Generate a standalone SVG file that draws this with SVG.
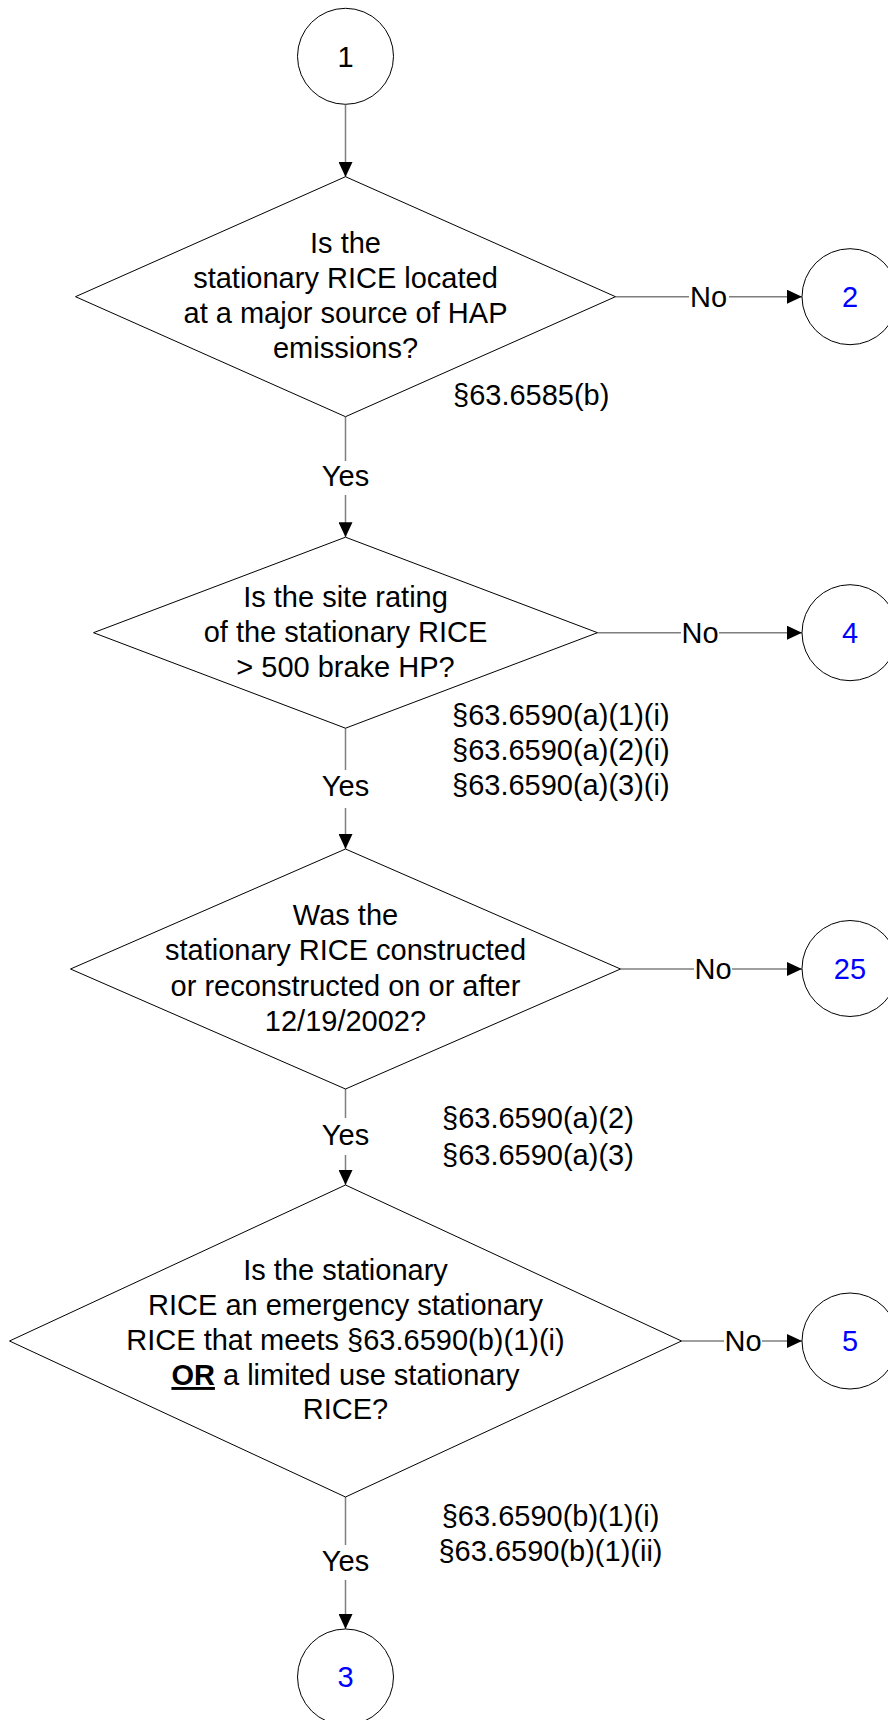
<svg xmlns="http://www.w3.org/2000/svg" width="888" height="1720" viewBox="0 0 888 1720">
<style>
.t{font-family:"Liberation Sans",Arial,sans-serif;font-size:29px;fill:#000}
.m{text-anchor:middle}
.b{fill:#0000ff}
.shape{fill:#fff;stroke:#000;stroke-width:1}
.con{fill:none;stroke:#7f7f7f;stroke-width:1.5}
</style>
<defs>
<marker id="arr" markerUnits="userSpaceOnUse" viewBox="0 0 15 14" refX="15" refY="7" markerWidth="15" markerHeight="14" orient="auto">
<path d="M0,0 L15,7 L0,14 z" fill="#000"/>
</marker>
</defs>
<rect width="888" height="1720" fill="#fff"/>
<g id="connectors">
<line class="con" x1="345.5" y1="104.5" x2="345.5" y2="177" marker-end="url(#arr)"/>
<line class="con" x1="615.5" y1="296.7" x2="689" y2="296.7"/>
<line class="con" x1="729" y1="296.7" x2="802" y2="296.7" marker-end="url(#arr)"/>
<line class="con" x1="345.5" y1="416.7" x2="345.5" y2="461"/>
<line class="con" x1="345.5" y1="495" x2="345.5" y2="537.2" marker-end="url(#arr)"/>
<line class="con" x1="597.5" y1="632.7" x2="681" y2="632.7"/>
<line class="con" x1="719" y1="632.7" x2="802" y2="632.7" marker-end="url(#arr)"/>
<line class="con" x1="345.5" y1="728.2" x2="345.5" y2="770"/>
<line class="con" x1="345.5" y1="808" x2="345.5" y2="849" marker-end="url(#arr)"/>
<line class="con" x1="620.5" y1="969" x2="694" y2="969"/>
<line class="con" x1="732" y1="969" x2="802" y2="969" marker-end="url(#arr)"/>
<line class="con" x1="345.5" y1="1089" x2="345.5" y2="1118"/>
<line class="con" x1="345.5" y1="1155" x2="345.5" y2="1185" marker-end="url(#arr)"/>
<line class="con" x1="681.5" y1="1341" x2="724" y2="1341"/>
<line class="con" x1="762" y1="1341" x2="802" y2="1341" marker-end="url(#arr)"/>
<line class="con" x1="345.5" y1="1497" x2="345.5" y2="1545"/>
<line class="con" x1="345.5" y1="1580" x2="345.5" y2="1629" marker-end="url(#arr)"/>
<text class="t m" x="708.5" y="307">No</text>
<text class="t m" x="345.5" y="486">Yes</text>
<text class="t m" x="700" y="643">No</text>
<text class="t m" x="345.5" y="796">Yes</text>
<text class="t m" x="713" y="979">No</text>
<text class="t m" x="345.5" y="1145">Yes</text>
<text class="t m" x="743" y="1351">No</text>
<text class="t m" x="345.5" y="1571">Yes</text>
</g>
<g id="c1">
<circle class="shape" cx="345.5" cy="56.3" r="48"/>
<text class="t m" x="345.5" y="66.5">1</text>
</g>
<g id="d1">
<polygon class="shape" points="345.5,176.7 615.5,296.7 345.5,416.7 75.5,296.7"/>
<text class="t m" x="345.5" y="253.3">Is the</text>
<text class="t m" x="345.5" y="288.3">stationary RICE located</text>
<text class="t m" x="345.5" y="323.3">at a major source of HAP</text>
<text class="t m" x="345.5" y="358.3">emissions?</text>
<text class="t" x="453" y="405">§63.6585(b)</text>
</g>
<g id="c2">
<circle class="shape" cx="850" cy="296.7" r="48"/>
<text class="t m b" x="850" y="307">2</text>
</g>
<g id="d2">
<polygon class="shape" points="345.5,537.2 597.5,632.7 345.5,728.2 93.5,632.7"/>
<text class="t m" x="345.5" y="607">Is the site rating</text>
<text class="t m" x="345.5" y="642">of the stationary RICE</text>
<text class="t m" x="345.5" y="677">&gt; 500 brake HP?</text>
<text class="t" x="452" y="725">§63.6590(a)(1)(i)</text>
<text class="t" x="452" y="760">§63.6590(a)(2)(i)</text>
<text class="t" x="452" y="795">§63.6590(a)(3)(i)</text>
</g>
<g id="c4">
<circle class="shape" cx="850" cy="632.7" r="48"/>
<text class="t m b" x="850" y="643">4</text>
</g>
<g id="d3">
<polygon class="shape" points="345.5,849 620.5,969 345.5,1089 70.5,969"/>
<text class="t m" x="345.5" y="925">Was the</text>
<text class="t m" x="345.5" y="960">stationary RICE constructed</text>
<text class="t m" x="345.5" y="995.5">or reconstructed on or after</text>
<text class="t m" x="345.5" y="1030.5">12/19/2002?</text>
<text class="t" x="442" y="1128">§63.6590(a)(2)</text>
<text class="t" x="442" y="1165">§63.6590(a)(3)</text>
</g>
<g id="c25">
<circle class="shape" cx="850" cy="968.5" r="48"/>
<text class="t m b" x="850" y="979">25</text>
</g>
<g id="d4">
<polygon class="shape" points="345.5,1185 681.5,1341 345.5,1497 9.5,1341"/>
<text class="t m" x="345.5" y="1280">Is the stationary</text>
<text class="t m" x="345.5" y="1315">RICE an emergency stationary</text>
<text class="t m" x="345.5" y="1350">RICE that meets §63.6590(b)(1)(i)</text>
<text class="t m" x="345.5" y="1385"><tspan font-weight="bold" text-decoration="underline">OR</tspan> a limited use stationary</text>
<text class="t m" x="345.5" y="1419">RICE?</text>
<text class="t m" x="550.5" y="1526">§63.6590(b)(1)(i)</text>
<text class="t m" x="550.5" y="1561">§63.6590(b)(1)(ii)</text>
</g>
<g id="c5">
<circle class="shape" cx="850" cy="1341" r="48"/>
<text class="t m b" x="850" y="1351">5</text>
</g>
<g id="c3">
<circle class="shape" cx="345.5" cy="1677" r="48"/>
<text class="t m b" x="345.5" y="1687">3</text>
</g>
</svg>
